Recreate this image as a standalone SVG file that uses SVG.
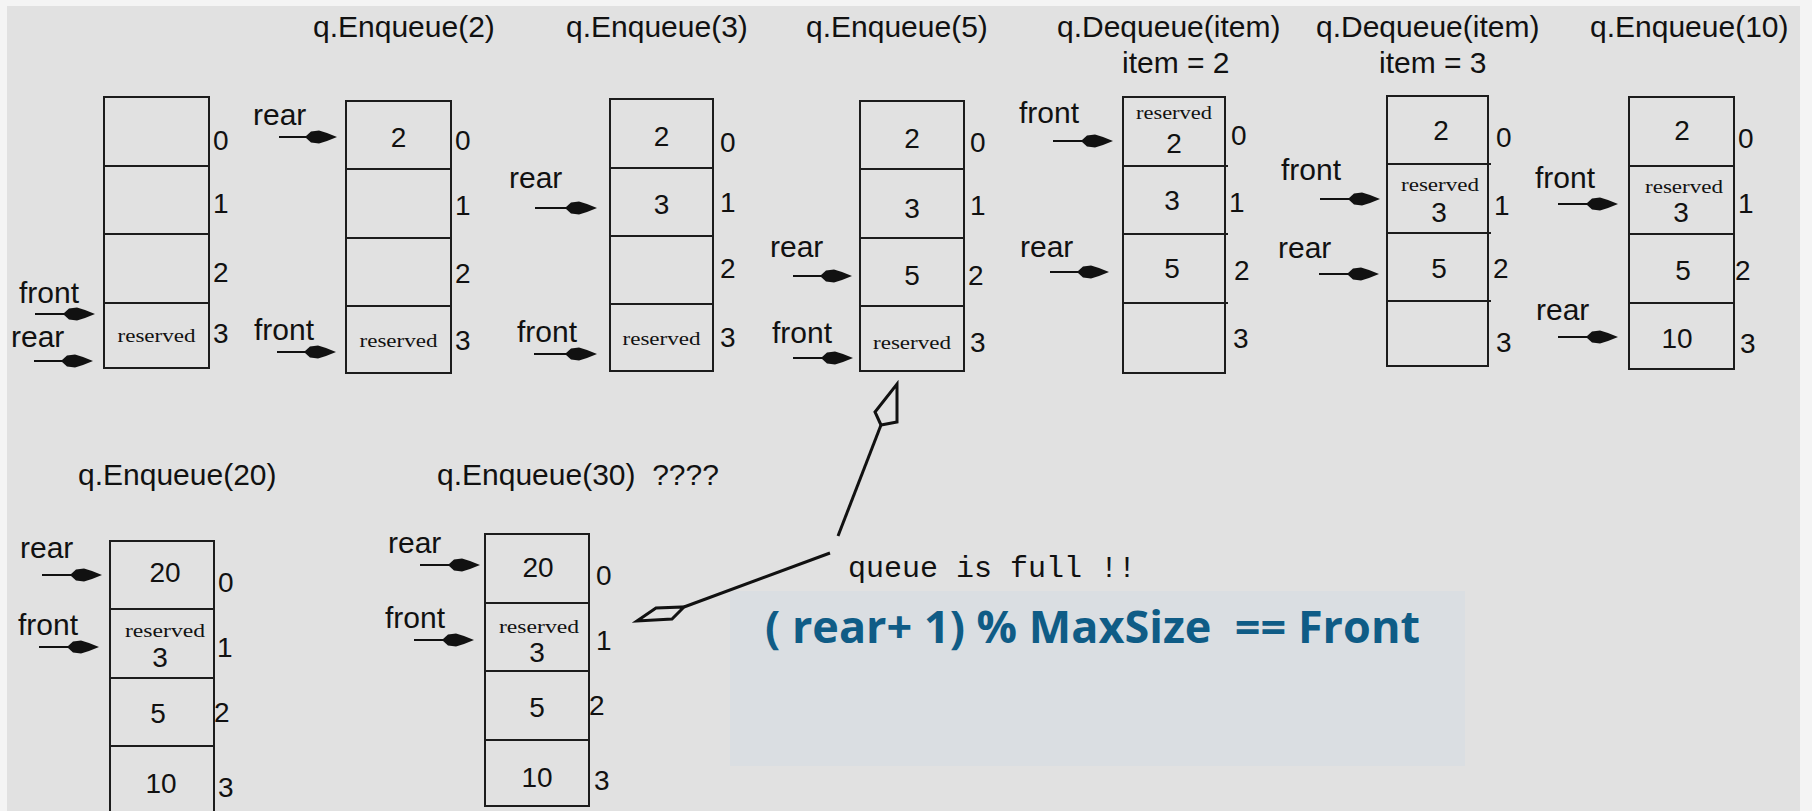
<svg xmlns="http://www.w3.org/2000/svg" width="1812" height="811" viewBox="0 0 1812 811">
<style>
.cell{fill:none;stroke:#1c1c1c;stroke-width:2}
.t{font-family:"Liberation Sans",Arial,sans-serif;font-size:30px;fill:#111}
.d{font-family:"Liberation Sans",Arial,sans-serif;font-size:28px;fill:#111;text-anchor:middle}
.i{font-family:"Liberation Sans",Arial,sans-serif;font-size:28px;fill:#111}
.r{font-family:"Liberation Serif","Times New Roman",serif;font-size:18px;fill:#111;text-anchor:middle}
.m{font-family:"Liberation Mono","Courier New",monospace;font-size:30px;fill:#111}
.f{font-family:"Open Sans",sans-serif;font-weight:700;font-size:44px;fill:#0f5c86}
.ptr{stroke:#111;stroke-width:2;fill:none}
.call{stroke:#111;stroke-width:3;fill:none;stroke-linejoin:miter}
</style>
<defs>
<path id="ah" d="M-32,0 L-26,-5.5 L-18,-6.5 L-10,-4 L0,0 L-10,4 L-18,6.5 L-26,5.5 Z" fill="#111"/>
</defs>
<rect x="0" y="0" width="1812" height="811" fill="#f4f4f4"/>
<rect x="7" y="6" width="1793" height="805" fill="#e1e1e1"/>
<rect x="730" y="591" width="735" height="175" fill="#dadee2"/>

<g id="q-initial">
<rect class="cell" x="104" y="97" width="105" height="271"/>
<path class="cell" d="M104 166H209M104 234H209M104 303H209"/>
<text class="r" x="156.5" y="342" textLength="78" lengthAdjust="spacingAndGlyphs">reserved</text>
<text class="i" x="213" y="150">0</text><text class="i" x="213" y="213">1</text><text class="i" x="213" y="282">2</text><text class="i" x="213" y="343">3</text>
<text class="t" x="19" y="303">front</text><text class="t" x="11" y="347">rear</text>
</g>

<g id="q-enqueue-2">
<text class="t" x="313" y="37">q.Enqueue(2)</text>
<rect class="cell" x="346" y="101" width="105" height="272"/>
<path class="cell" d="M346 169H451M346 238H451M346 306H451"/>
<text class="d" x="398.5" y="147">2</text>
<text class="r" x="398.5" y="347" textLength="78" lengthAdjust="spacingAndGlyphs">reserved</text>
<text class="i" x="455" y="150">0</text><text class="i" x="455" y="215">1</text><text class="i" x="455" y="283">2</text><text class="i" x="455" y="350">3</text>
<text class="t" x="253" y="125">rear</text><text class="t" x="254" y="340">front</text>
</g>

<g id="q-enqueue-3">
<text class="t" x="566" y="37">q.Enqueue(3)</text>
<rect class="cell" x="610" y="99" width="103" height="272"/>
<path class="cell" d="M610 168H713M610 236H713M610 304H713"/>
<text class="d" x="661.5" y="146">2</text><text class="d" x="661.5" y="214">3</text>
<text class="r" x="661.5" y="345" textLength="78" lengthAdjust="spacingAndGlyphs">reserved</text>
<text class="i" x="720" y="152">0</text><text class="i" x="720" y="212">1</text><text class="i" x="720" y="278">2</text><text class="i" x="720" y="347">3</text>
<text class="t" x="509" y="188">rear</text><text class="t" x="517" y="342">front</text>
</g>

<g id="q-enqueue-5">
<text class="t" x="806" y="37">q.Enqueue(5)</text>
<rect class="cell" x="860" y="101" width="104" height="270"/>
<path class="cell" d="M860 169H964M860 238H964M860 306H964"/>
<text class="d" x="912" y="148">2</text><text class="d" x="912" y="218">3</text><text class="d" x="912" y="285">5</text>
<text class="r" x="912" y="349" textLength="78" lengthAdjust="spacingAndGlyphs">reserved</text>
<text class="i" x="970" y="152">0</text><text class="i" x="970" y="215">1</text><text class="i" x="968" y="285">2</text><text class="i" x="970" y="352">3</text>
<text class="t" x="770" y="257">rear</text><text class="t" x="772" y="343">front</text>
</g>

<g id="q-dequeue-2">
<text class="t" x="1057" y="37">q.Dequeue(item)</text>
<text class="t" x="1122" y="73">item = 2</text>
<rect class="cell" x="1123" y="97" width="102" height="276"/>
<path class="cell" d="M1123 166H1228M1123 234H1228M1123 303H1228"/>
<text class="r" x="1174" y="119" textLength="76" lengthAdjust="spacingAndGlyphs">reserved</text>
<text class="d" x="1174" y="153">2</text><text class="d" x="1172" y="210">3</text><text class="d" x="1172" y="278">5</text>
<text class="i" x="1231" y="145">0</text><text class="i" x="1229" y="212">1</text><text class="i" x="1234" y="280">2</text><text class="i" x="1233" y="348">3</text>
<text class="t" x="1019" y="123">front</text><text class="t" x="1020" y="257">rear</text>
</g>

<g id="q-dequeue-3">
<text class="t" x="1316" y="37">q.Dequeue(item)</text>
<text class="t" x="1379" y="73">item = 3</text>
<rect class="cell" x="1387" y="96" width="101" height="270"/>
<path class="cell" d="M1387 164H1491M1387 233H1491M1387 301H1491"/>
<text class="d" x="1441" y="140">2</text>
<text class="r" x="1440" y="191" textLength="78" lengthAdjust="spacingAndGlyphs">reserved</text>
<text class="d" x="1439" y="222">3</text><text class="d" x="1439" y="278">5</text>
<text class="i" x="1496" y="147">0</text><text class="i" x="1494" y="215">1</text><text class="i" x="1493" y="278">2</text><text class="i" x="1496" y="352">3</text>
<text class="t" x="1281" y="180">front</text><text class="t" x="1278" y="258">rear</text>
</g>

<g id="q-enqueue-10">
<text class="t" x="1590" y="37">q.Enqueue(10)</text>
<rect class="cell" x="1629" y="97" width="105" height="272"/>
<path class="cell" d="M1629 166H1734M1629 234H1734M1629 303H1734"/>
<text class="d" x="1682" y="140">2</text>
<text class="r" x="1684" y="193" textLength="78" lengthAdjust="spacingAndGlyphs">reserved</text>
<text class="d" x="1681" y="222">3</text><text class="d" x="1683" y="280">5</text><text class="d" x="1677" y="348">10</text>
<text class="i" x="1738" y="148">0</text><text class="i" x="1738" y="213">1</text><text class="i" x="1735" y="280">2</text><text class="i" x="1740" y="353">3</text>
<text class="t" x="1535" y="188">front</text><text class="t" x="1536" y="320">rear</text>
</g>

<g id="q-enqueue-20">
<text class="t" x="78" y="485">q.Enqueue(20)</text>
<path class="cell" d="M110 811V541H214V811M110 609H214M110 678H214M110 746H214"/>
<text class="d" x="165" y="582">20</text>
<text class="r" x="165" y="637" textLength="80" lengthAdjust="spacingAndGlyphs">reserved</text>
<text class="d" x="160" y="667">3</text><text class="d" x="158" y="723">5</text><text class="d" x="161" y="793">10</text>
<text class="i" x="218" y="592">0</text><text class="i" x="217" y="657">1</text><text class="i" x="214" y="722">2</text><text class="i" x="218" y="797">3</text>
<text class="t" x="20" y="558">rear</text><text class="t" x="18" y="635">front</text>
</g>

<g id="q-enqueue-30">
<text class="t" x="437" y="485" xml:space="preserve">q.Enqueue(30)  ????</text>
<rect class="cell" x="485" y="534" width="104" height="272"/>
<path class="cell" d="M485 603H589M485 671H589M485 740H589"/>
<text class="d" x="538" y="577">20</text>
<text class="r" x="539" y="633" textLength="80" lengthAdjust="spacingAndGlyphs">reserved</text>
<text class="d" x="537" y="662">3</text><text class="d" x="537" y="717">5</text><text class="d" x="537" y="787">10</text>
<text class="i" x="596" y="585">0</text><text class="i" x="596" y="650">1</text><text class="i" x="589" y="715">2</text><text class="i" x="594" y="790">3</text>
<text class="t" x="388" y="553">rear</text><text class="t" x="385" y="628">front</text>
</g>

<g id="note">
<text class="m" x="848" y="577">queue is full !!</text>
<text class="f" x="765" y="643" textLength="655" lengthAdjust="spacingAndGlyphs" xml:space="preserve">( rear+ 1) % MaxSize  == Front</text>
</g>

<g id="connectors">
<path class="ptr" d="M35 314H65M34 361H63M279 137H307M277 352H306M535 208H567M534 354H567M793 276H822M793 358H823M1053 141H1083M1050 272H1079M1320 199H1350M1319 274H1349M1558 204H1588M1558 337H1588M42 575H72M39 647H69M420 565H450M414 640H444"/>
<use href="#ah" x="95" y="314"/><use href="#ah" x="93" y="361"/>
<use href="#ah" x="337" y="137"/><use href="#ah" x="336" y="352"/>
<use href="#ah" x="597" y="208"/><use href="#ah" x="597" y="354"/>
<use href="#ah" x="852" y="276"/><use href="#ah" x="853" y="358"/>
<use href="#ah" x="1113" y="141"/><use href="#ah" x="1109" y="272"/>
<use href="#ah" x="1380" y="199"/><use href="#ah" x="1379" y="274"/>
<use href="#ah" x="1618" y="204"/><use href="#ah" x="1618" y="337"/>
<use href="#ah" x="102" y="575"/><use href="#ah" x="99" y="647"/>
<use href="#ah" x="480" y="565"/><use href="#ah" x="474" y="640"/>
<path class="call" d="M838 536L881 425"/>
<path class="call" d="M881 425L875 412L897 384L897 422Z"/>
<path class="call" d="M830 553L684 607"/>
<path class="call" d="M684 607L672 619L637 621L656 608Z"/>
</g>
</svg>
